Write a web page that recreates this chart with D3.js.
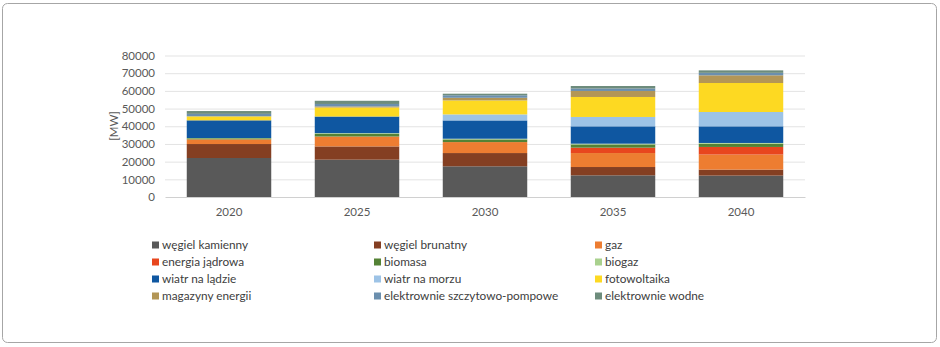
<!DOCTYPE html>
<html>
<head>
<meta charset="utf-8">
<script src="https://cdn.jsdelivr.net/npm/d3@7"></script>
<style>
  body { margin: 0; background: #fff; }
  text { font-family: Lato, "Liberation Sans", sans-serif; }
</style>
</head>
<body>
<div id="chart"></div>
<script>
// lata i dane [MW]
let years = ['2020', '2025', '2030', '2035', '2040'];
let seriesNames = ['węgiel kamienny', 'węgiel brunatny', 'gaz', 'energia jądrowa', 'biomasa', 'biogaz',
    'wiatr na lądzie', 'wiatr na morzu', 'fotowoltaika', 'magazyny energii',
    'elektrownie szczytowo-pompowe', 'elektrownie wodne'];
let wegielKamienny = [22050, 21100, 17350, 12250, 12100];
let wegielBrunatny = [7900, 7500, 7500, 4700, 3400];
let gaz = [2650, 5600, 6200, 7900, 8500];
let energiaJadrowa = [0, 0, 0, 3050, 4300];
let biomasa = [600, 1500, 1500, 1800, 1800];
let biogaz = [150, 400, 400, 450, 450];
let wiatrLad = [10000, 9400, 10350, 9800, 9400];
let wiatrMorze = [0, 0, 3400, 5300, 8100];
let fotowoltaika = [2250, 5100, 7900, 11300, 16400];
let magazyny = [0, 600, 1500, 3400, 4350];
let pompowe = [1400, 1400, 1400, 1400, 1400];
let wodne = [1600, 1800, 900, 1400, 1400];
let yTicks = [0, 10000, 20000, 30000, 40000, 50000, 60000, 70000, 80000];

let colors = ['#595959', '#843f22', '#ed7d31', '#e8461e', '#548235', '#a9d18e',
    '#0f57a1', '#9dc3e6', '#fdd922', '#b39656', '#6b8fae', '#6d8c7c'];

let allSeries = [wegielKamienny, wegielBrunatny, gaz, energiaJadrowa, biomasa, biogaz,
    wiatrLad, wiatrMorze, fotowoltaika, magazyny, pompowe, wodne];

let table = years.map(function (y, i) {
    let row = {year: y};
    seriesNames.forEach(function (n, k) { row[n] = allSeries[k][i]; });
    return row;
});

let svg = d3.select('#chart').append('svg')
    .attr('width', 940)
    .attr('height', 347);

// ramka
svg.append('rect')
    .attr('x', 2.5).attr('y', 3.5)
    .attr('width', 934).attr('height', 339)
    .attr('rx', 5)
    .attr('fill', 'none')
    .attr('stroke', '#a6a6a6');

let x = d3.scaleBand()
    .domain(years)
    .range([165, 805])
    .paddingInner(0.34)
    .paddingOuter(0.17);

let y = d3.scaleLinear()
    .domain([0, 80000])
    .range([197, 55.5]);

// siatka
svg.append('g')
    .selectAll('line')
    .data(yTicks.slice(1))
    .enter()
    .append('line')
    .attr('x1', 165).attr('x2', 805)
    .attr('y1', function (d) { return y(d) + 0.5; })
    .attr('y2', function (d) { return y(d) + 0.5; })
    .attr('stroke', '#e3e3e3');

let axisY = d3.axisLeft(y).tickValues(yTicks).tickSize(0).tickPadding(10)
    .tickFormat(d3.format('d'));
let gy = svg.append('g').attr('transform', 'translate(165,0)').call(axisY);
gy.select('.domain').remove();
gy.selectAll('text').attr('font-size', 11.5).attr('fill', '#595959')
    .attr('font-family', 'Lato, sans-serif');

svg.append('text')
    .attr('transform', 'translate(118,126) rotate(-90)')
    .attr('text-anchor', 'middle')
    .attr('font-size', 11.5)
    .attr('fill', '#595959')
    .text('[MW]');

let stack = d3.stack().keys(seriesNames);
let layers = stack(table);

svg.append('g')
    .selectAll('g')
    .data(layers)
    .enter()
    .append('g')
    .attr('fill', function (d, i) { return colors[i]; })
    .selectAll('rect')
    .data(function (d) { return d; })
    .enter()
    .append('rect')
    .attr('x', function (d) { return x(d.data.year); })
    .attr('y', function (d) { return y(d[1]); })
    .attr('width', x.bandwidth())
    .attr('height', function (d) { return y(d[0]) - y(d[1]); });

let axisX = d3.axisBottom(x).tickSize(0).tickPadding(11);
let gx = svg.append('g').attr('transform', 'translate(0,197)').call(axisX);
gx.select('.domain').attr('stroke', '#d0d0d0');
gx.selectAll('text').attr('font-size', 11.5).attr('fill', '#595959')
    .attr('font-family', 'Lato, sans-serif');

// legenda: 3 kolumny, 4 wiersze
let legendX = [152, 374, 595];
let legend = svg.append('g')
    .selectAll('g')
    .data(seriesNames)
    .enter()
    .append('g')
    .attr('transform', function (d, i) {
        return 'translate(' + legendX[i % 3] + ',' + (245 + 17 * Math.floor(i / 3)) + ')';
    });
legend.append('rect')
    .attr('x', 0).attr('y', -3.5)
    .attr('width', 7).attr('height', 7)
    .attr('fill', function (d, i) { return colors[i]; });
legend.append('text')
    .attr('x', 10).attr('y', 4)
    .attr('font-size', 11.8)
    .attr('fill', '#404040')
    .text(function (d) { return d; });
</script>
</body>
</html>
